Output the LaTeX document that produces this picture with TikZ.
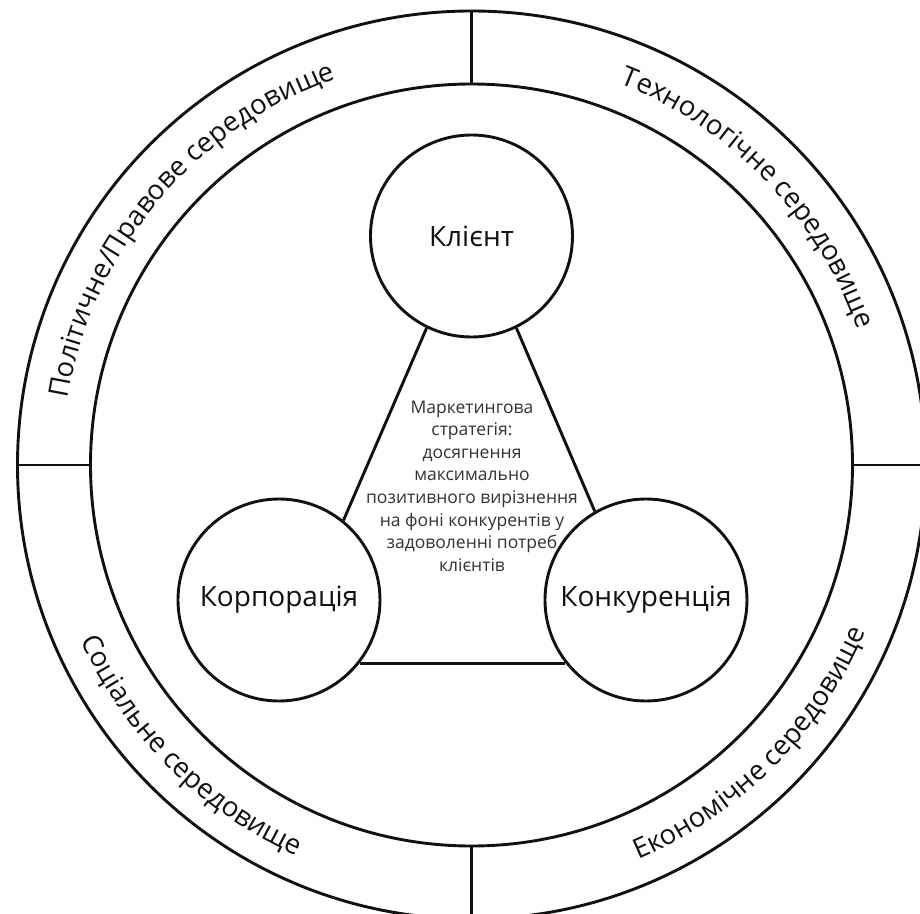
\documentclass[tikz,border=0pt]{standalone}
\usepackage{fontspec}
\setmainfont{Open Sans}
\usetikzlibrary{positioning,decorations.text}
\definecolor{mkink}{HTML}{111111}
\definecolor{mkgrey}{HTML}{333333}
\tikzset{
  ring/.style={draw=mkink, line width=2.9pt},
  actor/.style={circle, draw=mkink, line width=2.9pt, fill=white, minimum size=202pt, inner sep=0pt, font=\fontsize{28}{33}\selectfont, text=mkink},
  link/.style={draw=mkink, line width=2.9pt},
  lbl/.style={align=center, font=\fontsize{17.5}{22.6}\selectfont, text=mkgrey},
  ringtxt/.style={decorate, decoration={text along path, text align=center, text color=mkink, text={|\fontsize{27.5}{27.5}\selectfont|#1}}},
}
\begin{document}
\begin{tikzpicture}[x=1pt, y=1pt]
    \clip (-471.5,-448) rectangle (448.5,465);
    \fill[white] (-471.5,-448) rectangle (448.5,465);
    % environment ring
    \draw[ring] (0,0) circle[radius=454pt];
    \draw[ring] (0,0) circle[radius=381pt];
    \foreach \a in {0,90,180,270}
      \draw[ring] (\a:381pt) -- (\a:454pt);
    \path[ringtxt={Політичне/Правове середовище}] (185:409pt) arc[start angle=185, end angle=95, radius=409pt];
    \path[ringtxt={Технологічне середовище}] (89:409pt) arc[start angle=89, end angle=-1, radius=409pt];
    \path[ringtxt={Соціальне середовище}] (180:428pt) arc[start angle=180, end angle=270, radius=428pt];
    \path[ringtxt={Економічне середовище}] (270:428pt) arc[start angle=270, end angle=360, radius=428pt];
    % three actors
    \node[actor] (client) at (0,229) {Клієнт};
    \node[actor] (corp) at (-192.5,-135) {Корпорація};
    \node[actor] (rival) at (174.5,-135) {Конкуренція};
    \draw[link] (client.244) -- (corp.51);
    \draw[link] (client.296) -- (rival.120);
    \draw[link] (corp.322) -- (rival.218);
    \node[lbl] (strat) at (0.5,-21) {Маркетингова\\стратегія:\\досягнення\\максимально\\позитивного вирізнення\\на фоні конкурентів у\\задоволенні потреб\\клієнтів};
  \end{tikzpicture}
\end{document}
